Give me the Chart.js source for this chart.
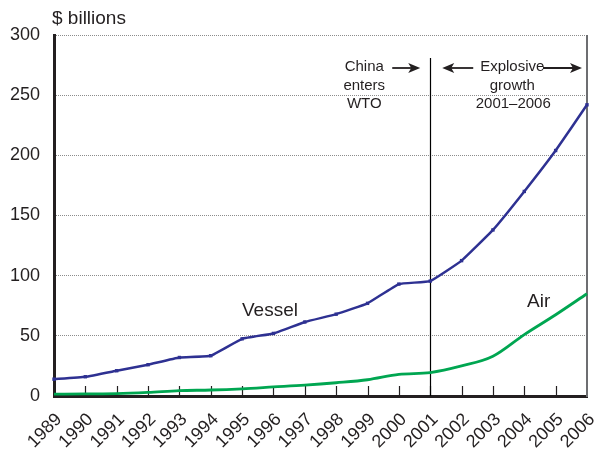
<!DOCTYPE html>
<html>
<head>
<meta charset="utf-8">
<script src="https://cdn.jsdelivr.net/npm/chart.js@4"></script>
<style>
  html, body { margin: 0; padding: 0; background: #fff; }
  #wrap { width: 598px; height: 449px; }
</style>
</head>
<body>
<div id="wrap"><canvas id="tradeChart" width="598" height="449"></canvas></div>
<script>
// Data
const years = ['1989', '1990', '1991', '1992', '1993', '1994', '1995', '1996', '1997',
    '1998', '1999', '2000', '2001', '2002', '2003', '2004', '2005', '2006'];
const vesselValues = [14, 16, 21, 26, 32, 33.5, 47.5, 52, 61.5, 68, 77, 93, 95.5, 112.5, 138, 170, 204, 242];
const airValues = [1.5, 1.8, 2, 3, 4.5, 5, 6, 7.5, 9, 11, 13.5, 18, 19.5, 25, 33, 51, 67.5, 85];
const yTicks = [0, 50, 100, 150, 200, 250, 300];

const inkColor = '#231f20';
const vesselColor = '#2e3192';
const airColor = '#00a651';
const fontFamily = '"Liberation Sans", Arial, Helvetica, sans-serif';

// Draws arrow line with a filled head at (x2, y)
function arrow(ctx, x1, x2, y) {
    const dir = x2 > x1 ? 1 : -1;
    ctx.beginPath();
    ctx.moveTo(x1, y);
    ctx.lineTo(x2 - dir * 6, y);
    ctx.stroke();
    ctx.beginPath();
    ctx.moveTo(x2, y);
    ctx.lineTo(x2 - dir * 12, y - 5);
    ctx.lineTo(x2 - dir * 9, y);
    ctx.lineTo(x2 - dir * 12, y + 5);
    ctx.closePath();
    ctx.fill();
}

const decorations = {
    id: 'decorations',
    beforeDatasetsDraw(chart) {
        const { ctx, chartArea, scales: { x } } = chart;
        ctx.save();
        // right frame edge
        ctx.strokeStyle = '#6d6e71';
        ctx.lineWidth = 2;
        ctx.beginPath();
        ctx.moveTo(chartArea.right, chartArea.top);
        ctx.lineTo(chartArea.right, chartArea.bottom + 1);
        ctx.stroke();

        // inward tick marks on the x axis
        ctx.strokeStyle = inkColor;
        ctx.lineWidth = 1.2;
        for (let i = 1; i < years.length - 1; i++) {
            const px = Math.round(x.getPixelForValue(i)) + 0.5;
            ctx.beginPath();
            ctx.moveTo(px, chartArea.bottom);
            ctx.lineTo(px, chartArea.bottom - 10);
            ctx.stroke();
        }

        // 2001 marker line
        const xLine = Math.round(x.getPixelForValue(years.indexOf('2001'))) + 0.5;
        ctx.strokeStyle = '#000';
        ctx.lineWidth = 1.2;
        ctx.beginPath();
        ctx.moveTo(xLine, chartArea.top + 23);
        ctx.lineTo(xLine, chartArea.bottom);
        ctx.stroke();
        ctx.restore();
    },
    afterDraw(chart) {
        const { ctx, chartArea, scales: { x } } = chart;
        const xLine = x.getPixelForValue(years.indexOf('2001'));
        ctx.save();
        ctx.fillStyle = inkColor;
        ctx.strokeStyle = inkColor;
        ctx.textBaseline = 'middle';

        // axis title
        ctx.font = '19px ' + fontFamily;
        ctx.textAlign = 'left';
        ctx.fillText('$ billions', 52, 19);

        // series labels
        ctx.fillText('Vessel', 242, 311);
        ctx.fillText('Air', 527, 302);

        // annotations
        ctx.font = '15px ' + fontFamily;
        ctx.textAlign = 'center';
        const top = chartArea.top;
        ctx.fillText('China', xLine - 66, top + 32);
        ctx.fillText('enters', xLine - 66, top + 51);
        ctx.fillText('WTO', xLine - 66, top + 69);
        ctx.fillText('Explosive', xLine + 82, top + 32);
        ctx.fillText('growth', xLine + 82, top + 51);
        ctx.fillText('2001\u20132006', xLine + 83, top + 69);

        ctx.lineWidth = 1.8;
        arrow(ctx, xLine - 38, xLine - 10, top + 33);
        arrow(ctx, xLine + 43, xLine + 12, top + 33);
        arrow(ctx, chartArea.right - 44, chartArea.right - 5, top + 33);
        ctx.restore();
    }
};

new Chart(document.getElementById('tradeChart').getContext('2d'), {
    type: 'line',
    data: {
        labels: years,
        datasets: [{
            label: 'Vessel',
            data: vesselValues,
            borderColor: vesselColor,
            backgroundColor: vesselColor,
            borderWidth: 2.5,
            pointStyle: 'rect',
            pointRadius: 2.4,
            pointBorderWidth: 0,
            tension: 0.1,
            clip: false
        }, {
            label: 'Air',
            data: airValues,
            borderColor: airColor,
            backgroundColor: airColor,
            borderWidth: 2.8,
            pointRadius: 0,
            cubicInterpolationMode: 'monotone',
            clip: false
        }]
    },
    options: {
        responsive: false,
        animation: false,
        layout: { padding: { top: 35, right: 11, left: 0, bottom: 0 } },
        plugins: {
            legend: { display: false },
            tooltip: { enabled: false }
        },
        scales: {
            x: {
                type: 'category',
                offset: false,
                grid: { display: false, drawTicks: false },
                border: { display: true, width: 3, color: inkColor },
                ticks: {
                    autoSkip: false,
                    minRotation: 45,
                    maxRotation: 45,
                    padding: 13,
                    labelOffset: 5,
                    color: inkColor,
                    font: { family: fontFamily, size: 18 }
                },
                afterFit(scale) {
                    scale.height = 53;
                    scale.paddingLeft = 0;
                    scale.paddingRight = 0;
                }
            },
            y: {
                min: 0,
                max: 300,
                afterBuildTicks(scale) { scale.ticks = yTicks.map(v => ({ value: v })); },
                grid: { color: '#8c8c8c', lineWidth: 1, drawTicks: false },
                border: { display: true, width: 3, color: inkColor, dash: [1, 1] },
                ticks: {
                    padding: 14,
                    color: inkColor,
                    font: { family: fontFamily, size: 18 }
                },
                afterFit(scale) {
                    scale.width = 54;
                    scale.paddingTop = 0;
                    scale.paddingBottom = 0;
                }
            }
        }
    },
    plugins: [decorations]
});
</script>
</body>
</html>
